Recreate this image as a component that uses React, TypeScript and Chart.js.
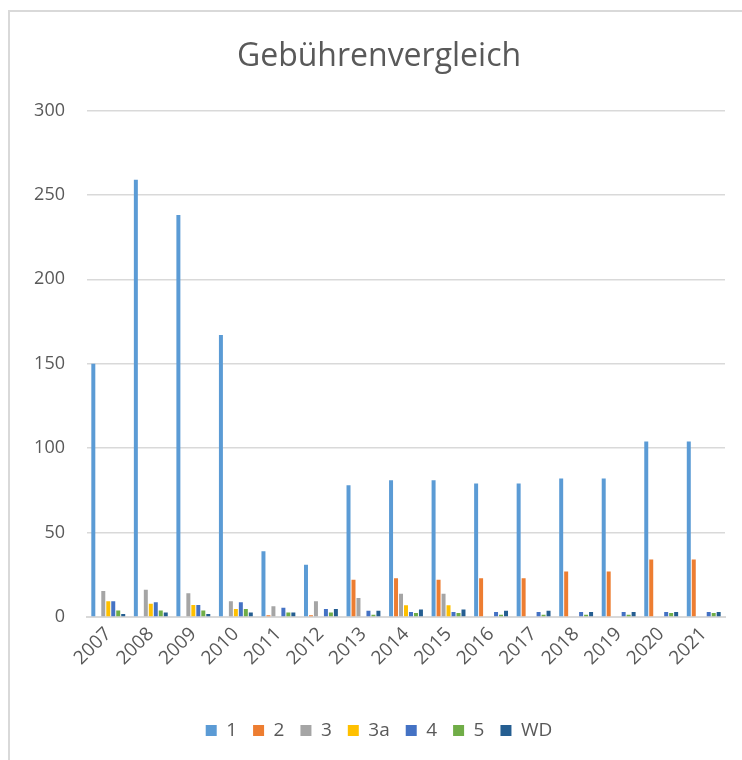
import React, { useEffect, useRef } from "react";
import { Chart, registerables } from "chart.js";

Chart.register(...registerables);

const years = ["2007", "2008", "2009", "2010", "2011", "2012", "2013", "2014", "2015", "2016", "2017", "2018", "2019", "2020", "2021"];
const s1 = [150, 259, 238, 167, 39, 31, 78, 81, 81, 79, 79, 82, 82, 104, 104];
const s2 = [0, 0, 0, 0, 1, 1, 22, 23, 22, 23, 23, 27, 27, 34, 34];
const s3 = [15.4, 16.2, 14, 9.3, 6.3, 9.3, 11.2, 13.8, 13.8, 0, 0, 0, 0, 0, 0];
const s3a = [9.3, 7.9, 7.1, 4.7, 0, 0, 0, 6.9, 6.9, 0, 0, 0, 0, 0, 0];
const s4 = [9.3, 8.7, 7.1, 8.7, 5.5, 4.7, 3.7, 3, 3, 3, 3, 3, 3, 3, 3];
const s5 = [3.9, 3.9, 3.9, 4.7, 2.6, 2.6, 1.4, 2.4, 2.4, 1.4, 1.4, 1.4, 1.4, 2.4, 2.4];
const sWD = [1.8, 2.6, 1.8, 2.6, 2.6, 4.7, 3.7, 4.5, 4.5, 3.7, 3.7, 3, 3, 3, 3];

const seriesNames = ["1", "2", "3", "3a", "4", "5", "WD"];
const seriesData = [s1, s2, s3, s3a, s4, s5, sWD];
const seriesColors = ["#5B9BD5", "#ED7D31", "#A5A5A5", "#FFC000", "#4472C4", "#70AD47", "#255E91"];

const yTicks = [0, 50, 100, 150, 200, 250, 300];

const FONT = "'Open Sans', 'DejaVu Sans', sans-serif";
const TEXT = "#595959";
const GRID = "#d9d9d9";

export default function App() {
  const ref = useRef<HTMLCanvasElement | null>(null);

  useEffect(() => {
    if (!ref.current) return;
    const chart = new Chart(ref.current, {
      type: "bar",
      data: {
        labels: years,
        datasets: seriesNames.map((n, i) => ({
          label: n,
          data: seriesData[i],
          backgroundColor: seriesColors[i],
          borderWidth: 0,
          categoryPercentage: 0.82,
          barPercentage: 0.8,
        })),
      },
      options: {
        responsive: false,
        animation: false,
        layout: { padding: { left: 33, right: 17, top: 0, bottom: 10 } },
        plugins: {
          title: {
            display: true,
            text: "Gebührenvergleich",
            color: TEXT,
            font: { family: FONT, size: 32, weight: "normal" },
            padding: { top: 38, bottom: 34 },
          },
          legend: {
            position: "bottom",
            labels: {
              color: TEXT,
              font: { family: FONT, size: 19 },
              boxWidth: 11,
              boxHeight: 11,
              padding: 16,
            },
          },
          tooltip: { enabled: false },
        },
        scales: {
          x: {
            grid: { display: false, drawTicks: false },
            border: { display: true, color: GRID, width: 2 },
            ticks: {
              color: TEXT,
              font: { family: FONT, size: 19 },
              minRotation: 45,
              maxRotation: 45,
              padding: 6,
            },
            afterFit: (s: any) => {
              s.height = 88;
            },
          },
          y: {
            min: 0,
            max: 300,
            afterBuildTicks: (s: any) => {
              s.ticks = yTicks.map((v) => ({ value: v }));
            },
            grid: { color: GRID, lineWidth: 1.5, drawTicks: false },
            border: { display: false },
            ticks: {
              color: TEXT,
              font: { family: FONT, size: 18 },
              padding: 22,
            },
            afterFit: (s: any) => {
              s.width = 54;
            },
          },
        },
      },
    });
    return () => chart.destroy();
  }, []);

  return (
    <div style={{ position: "absolute", left: 0, top: 0, width: 742, height: 760, background: "#fff", overflow: "hidden" }}>
      <div
        style={{
          position: "absolute",
          left: 8,
          top: 10,
          right: -4,
          bottom: -4,
          borderLeft: "2px solid #d9d9d9",
          borderTop: "2px solid #d9d9d9",
        }}
      />
      <canvas ref={ref} width={742} height={760} style={{ position: "absolute", left: 0, top: 0 }} />
    </div>
  );
}
